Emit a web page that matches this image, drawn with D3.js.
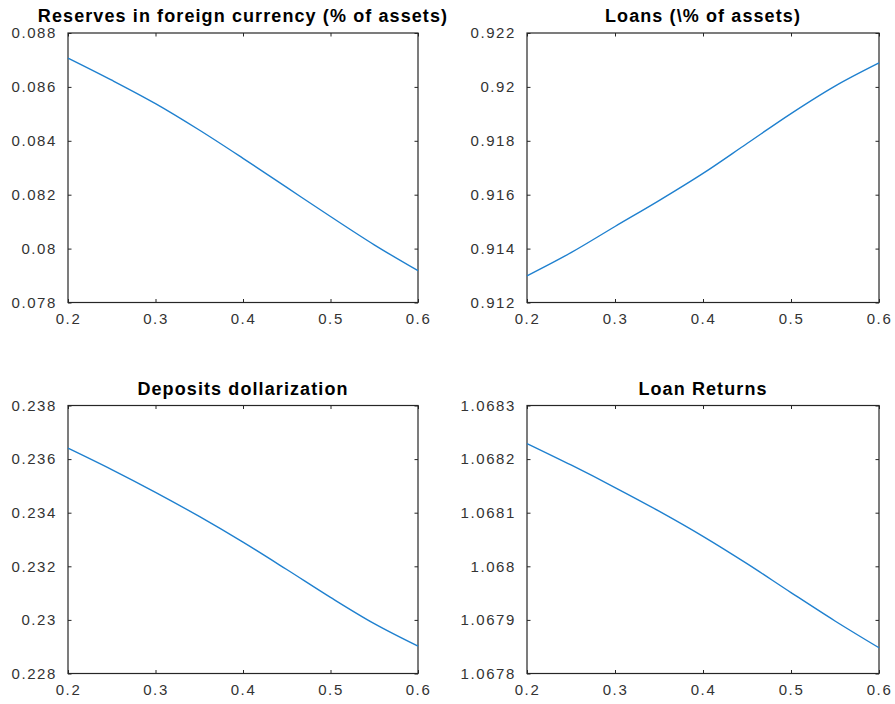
<!DOCTYPE html>
<html>
<head>
<meta charset="utf-8">
<script src="https://cdn.jsdelivr.net/npm/d3@7"></script>
<style>
  body { margin: 0; background: #fff; }
  svg { display: block; }
  .title { font-family: "Liberation Sans", Arial, sans-serif; font-weight: bold; font-size: 18px; fill: #000; letter-spacing: 1.1px; }
  .tick text { font-family: "Liberation Sans", Arial, sans-serif; font-size: 15px; fill: #333; letter-spacing: 1.6px; }
</style>
</head>
<body>
<div id="chart"></div>
<script>
// x grid shared by all four panels
const xValues = [0.2, 0.25, 0.3, 0.35, 0.4, 0.45, 0.5, 0.55, 0.6];
const xTicks = [0.2, 0.3, 0.4, 0.5, 0.6];

// series
const reserves = [0.08707, 0.08625, 0.08538, 0.08440, 0.08335, 0.08227, 0.08119, 0.08014, 0.07918];
const loans = [0.91299, 0.91385, 0.91482, 0.91578, 0.91679, 0.91790, 0.91901, 0.92003, 0.92089];
const deposits = [0.23641, 0.23561, 0.23476, 0.23386, 0.23290, 0.23188, 0.23084, 0.22986, 0.22902];
const loanReturns = [1.068229, 1.068189, 1.068147, 1.068103, 1.068056, 1.068005, 1.067951, 1.067898, 1.067848];

// y ticks per panel
const reservesTicks = [0.078, 0.08, 0.082, 0.084, 0.086, 0.088];
const loansTicks = [0.912, 0.914, 0.916, 0.918, 0.92, 0.922];
const depositsTicks = [0.228, 0.23, 0.232, 0.234, 0.236, 0.238];
const returnsTicks = [1.0678, 1.0679, 1.068, 1.0681, 1.0682, 1.0683];

const titles = [
  'Reserves in foreign currency (% of assets)',
  'Loans (\\% of assets)',
  'Deposits dollarization',
  'Loan Returns'
];

const panels = [
  { title: titles[0], values: reserves, ticks: reservesTicks, left: 68, right: 418, top: 33, bottom: 302.5 },
  { title: titles[1], values: loans, ticks: loansTicks, left: 527, right: 879, top: 33, bottom: 302.5 },
  { title: titles[2], values: deposits, ticks: depositsTicks, left: 68, right: 418, top: 405.5, bottom: 673.5 },
  { title: titles[3], values: loanReturns, ticks: returnsTicks, left: 527, right: 879, top: 405.5, bottom: 673.5 }
];

const width = 895, height = 704;
const axisColor = '#262626';
const lineColor = '#1f80cf';
const tickLen = 3.5;

const svg = d3.select('#chart').append('svg')
  .attr('width', width)
  .attr('height', height);

panels.forEach(function (p) {
  const x = d3.scaleLinear().domain([0.2, 0.6]).range([p.left, p.right]);
  const y = d3.scaleLinear().domain(d3.extent(p.ticks)).range([p.bottom, p.top]);

  const g = svg.append('g');

  // bottom axis with labels
  g.append('g')
    .attr('transform', 'translate(0,' + p.bottom + ')')
    .call(d3.axisBottom(x).tickValues(xTicks).tickSize(-tickLen).tickPadding(11).tickFormat(d3.format('')))
    .call(ax => ax.select('.domain').remove())
    .call(ax => ax.selectAll('line').attr('stroke', axisColor));

  // left axis with labels
  g.append('g')
    .attr('transform', 'translate(' + p.left + ',0)')
    .call(d3.axisLeft(y).tickValues(p.ticks).tickSize(-tickLen).tickPadding(11).tickFormat(d3.format('')))
    .call(ax => ax.select('.domain').remove())
    .call(ax => ax.selectAll('line').attr('stroke', axisColor));

  // top / right mirror ticks
  g.append('g')
    .attr('transform', 'translate(0,' + p.top + ')')
    .call(d3.axisTop(x).tickValues(xTicks).tickSize(-tickLen).tickFormat(''))
    .call(ax => ax.select('.domain').remove())
    .call(ax => ax.selectAll('line').attr('stroke', axisColor));
  g.append('g')
    .attr('transform', 'translate(' + p.right + ',0)')
    .call(d3.axisRight(y).tickValues(p.ticks).tickSize(-tickLen).tickFormat(''))
    .call(ax => ax.select('.domain').remove())
    .call(ax => ax.selectAll('line').attr('stroke', axisColor));

  // box
  g.append('rect')
    .attr('x', p.left)
    .attr('y', p.top)
    .attr('width', p.right - p.left)
    .attr('height', p.bottom - p.top)
    .attr('fill', 'none')
    .attr('stroke', axisColor)
    .attr('stroke-width', 1.2);

  const line = d3.line()
    .x((d, i) => x(xValues[i]))
    .y(d => y(d))
    .curve(d3.curveCatmullRom.alpha(0.5));

  g.append('path')
    .datum(p.values)
    .attr('d', line)
    .attr('fill', 'none')
    .attr('stroke', lineColor)
    .attr('stroke-width', 1.4);

  g.append('text')
    .attr('class', 'title')
    .attr('x', (p.left + p.right) / 2)
    .attr('y', p.top - 11)
    .attr('text-anchor', 'middle')
    .text(p.title);
});
</script>
</body>
</html>
